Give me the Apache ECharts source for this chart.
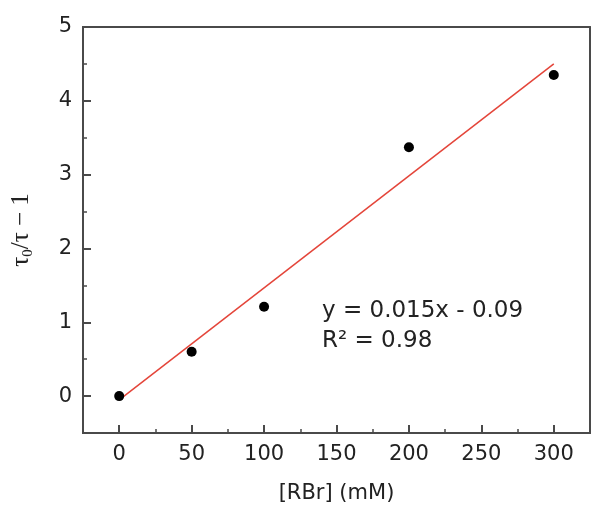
<!DOCTYPE html>
<html>
  <head>
    <meta charset="UTF-8">
    <title>RBr quenching</title>
    <script src="https://cdn.jsdelivr.net/npm/echarts@6/dist/echarts.min.js"></script>
    <style>
    * {
      margin: 0;
      padding: 0;
    }
    body {
      background: #fff;
    }
    </style>
  </head>
  <body>
    <div id="main" style="width: 601px;height: 530px"></div>

    <script>
// [RBr] in mM and tau0/tau - 1
var conc = [0, 50, 100, 200, 300]
var ratio = [0, 0.6, 1.21, 3.37, 4.35]
// endpoints of the red linear fit
var fitX = [0, 300]
var fitY = [-0.05, 4.5]
var fitText = ['y = 0.015x - 0.09', 'R² = 0.98']
var xTicks = [0, 50, 100, 150, 200, 250, 300]
var yTicks = [0, 1, 2, 3, 4, 5]

var font = 'DejaVu Sans, sans-serif'
var serif = 'Liberation Serif, Times New Roman, serif'
var axisColor = '#4a4a4a'

var myChart = echarts.init(document.getElementById('main'))

// plain axis for the frame lines and the short minor ticks
function frameAxis(extra, tickLen) {
  return Object.assign({
    type: 'value',
    offset: 0,
    axisLine: { show: true, onZero: false, lineStyle: { color: axisColor, width: 2 } },
    axisTick: { show: !!tickLen, inside: true, length: tickLen || 0, lineStyle: { color: axisColor, width: 1.5 } },
    axisLabel: { show: false },
    splitLine: { show: false }
  }, extra)
}

var option = {
  backgroundColor: '#fff',
  animation: false,
  grid: { left: 83, right: 11, top: 27, bottom: 97 },
  xAxis: [
    {
      type: 'value',
      min: -25,
      max: 325,
      minInterval: 50,
      maxInterval: 50,
      axisLine: { show: true, onZero: false, lineStyle: { color: axisColor, width: 2 } },
      axisTick: { show: true, inside: true, length: 8, lineStyle: { color: axisColor, width: 2 } },
      axisLabel: { customValues: xTicks, color: '#222', fontSize: 21, fontFamily: font, margin: 11 },
      splitLine: { show: false }
    },
    frameAxis({
      min: -25, max: 325, interval: 25, position: 'bottom',
      name: '[RBr] (mM)',
      nameLocation: 'middle',
      nameGap: 50,
      nameTextStyle: { color: '#222', fontSize: 21, fontFamily: font }
    }, 4),
    frameAxis({ min: -25, max: 325, position: 'top' })
  ],
  yAxis: [
    {
      type: 'value',
      min: -0.5,
      max: 5,
      minInterval: 1,
      maxInterval: 1,
      axisLine: { show: true, onZero: false, lineStyle: { color: axisColor, width: 2 } },
      axisTick: { show: true, inside: true, length: 8, lineStyle: { color: axisColor, width: 2 } },
      axisLabel: { customValues: yTicks, color: '#222', fontSize: 21, fontFamily: font, margin: 11 },
      splitLine: { show: false }
    },
    frameAxis({
      min: -0.5, max: 5, interval: 0.5, position: 'left',
      name: '{t|τ}{s|0}{t|/τ − 1}',
      nameLocation: 'middle',
      nameGap: 47,
      nameTextStyle: {
        rich: {
          t: { fontSize: 25, fontFamily: serif, color: '#222' },
          s: { fontSize: 15, fontFamily: serif, color: '#222', padding: [14, 0, 0, 0] }
        }
      }
    }, 4),
    frameAxis({ min: -0.5, max: 5, position: 'right' })
  ],
  series: [{
    type: 'line',
    data: fitX.map((x, i) => [x, fitY[i]]),
    symbol: 'none',
    lineStyle: { color: '#e4453a', width: 1.5 },
    z: 2
  }, {
    type: 'scatter',
    data: conc.map((x, i) => [x, ratio[i]]),
    symbolSize: 10,
    itemStyle: { color: '#000', opacity: 1 },
    z: 3
  }],
  graphic: [{
    type: 'text',
    left: 322,
    top: 296,
    style: {
      text: fitText.join('\n'),
      font: '23px ' + font,
      fill: '#222',
      lineHeight: 30
    }
  }]
}
myChart.setOption(option)
    </script>
  </body>
</html>
